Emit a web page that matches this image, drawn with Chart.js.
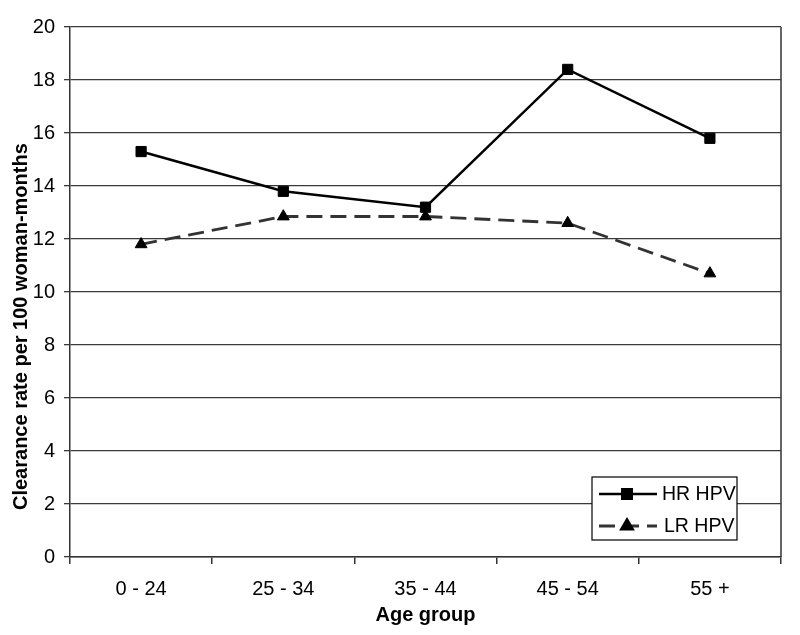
<!DOCTYPE html>
<html>
<head>
<meta charset="utf-8">
<script src="https://cdn.jsdelivr.net/npm/chart.js@4"></script>
<style>
  html, body { margin: 0; padding: 0; background: #fff; }
  #wrap { width: 800px; height: 635px; }
</style>
</head>
<body>
<div id="wrap"><canvas id="lineChart" width="800" height="635"></canvas></div>
<script>
const ageGroups = ['0 - 24', '25 - 34', '35 - 44', '45 - 54', '55 +'];
const hrHpv = [15.3, 13.8, 13.2, 18.4, 15.8];
const lrHpv = [11.8, 12.85, 12.85, 12.6, 10.7];
const seriesNames = ['HR HPV', 'LR HPV'];
const yTitle = 'Clearance rate per 100 woman-months';

const FONT = 'Liberation Sans, Arial, sans-serif';

// y title, right border and the boxed legend inside the plot
const boxLegend = {
    id: 'boxLegend',
    afterDraw(chart) {
        const ctx = chart.ctx;
        const area = chart.chartArea;
        ctx.save();
        ctx.strokeStyle = '#333';
        ctx.lineWidth = 1.5;
        ctx.beginPath();
        ctx.moveTo(area.right, area.top);
        ctx.lineTo(area.right, area.bottom);
        ctx.stroke();

        // y axis title, sits a bit low like the original
        ctx.save();
        ctx.translate(21, 510);
        ctx.rotate(-Math.PI / 2);
        ctx.font = 'bold 20px ' + FONT;
        ctx.fillStyle = '#000';
        ctx.textAlign = 'left';
        ctx.textBaseline = 'middle';
        ctx.fillText(yTitle, 0, 0);
        ctx.restore();

        const x = 592, y = 477, w = 145, h = 63;
        ctx.fillStyle = '#fff';
        ctx.fillRect(x, y, w, h);
        ctx.strokeStyle = '#000';
        ctx.lineWidth = 1.2;
        ctx.strokeRect(x, y, w, h);

        ctx.font = '19.5px ' + FONT;
        ctx.textBaseline = 'middle';
        chart.data.datasets.forEach((ds, i) => {
            const ly = y + 17 + i * 32;
            ctx.strokeStyle = ds.borderColor;
            ctx.lineWidth = ds.borderWidth;
            ctx.setLineDash(ds.borderDash || []);
            ctx.beginPath();
            ctx.moveTo(x + 7, ly);
            ctx.lineTo(x + 65, ly);
            ctx.stroke();
            ctx.setLineDash([]);
            ctx.fillStyle = '#000';
            ctx.strokeStyle = '#000';
            Chart.helpers.drawPoint(ctx, {
                pointStyle: ds.pointStyle,
                radius: ds.pointRadius - 0.5,
                borderWidth: 1
            }, x + 35, ly);
            ctx.fillText(ds.label, x + 70 + i * 2, ly + 1);
        });
        ctx.restore();
    }
};

window.onload = function () {
    let painter = document.getElementById('lineChart').getContext('2d');
    Chart.defaults.font.family = FONT;
    Chart.defaults.color = '#000';

    window.lineChart = new Chart(painter, {
        type: 'line',
        data: {
            labels: ageGroups,
            datasets: [{
                label: seriesNames[0],
                data: hrHpv,
                borderColor: '#000',
                backgroundColor: '#000',
                borderWidth: 2.5,
                pointStyle: 'rect',
                pointRadius: 7.2,
                pointBorderWidth: 1,
                tension: 0
            }, {
                label: seriesNames[1],
                data: lrHpv,
                borderColor: '#333',
                backgroundColor: '#000',
                pointBorderColor: '#000',
                borderWidth: 2.8,
                borderDash: [16, 8],
                pointStyle: 'triangle',
                pointRadius: 6.8,
                pointBorderWidth: 1,
                tension: 0
            }]
        },
        options: {
            responsive: false,
            animation: false,
            layout: { padding: { top: 27, right: 19, left: 0, bottom: 0 } },
            scales: {
                x: {
                    offset: true,
                    grid: {
                        drawOnChartArea: false,
                        offset: true,
                        tickLength: 7,
                        color: '#333',
                        lineWidth: 1.5
                    },
                    border: { color: '#333', width: 1.5 },
                    ticks: { padding: 13, font: { size: 20 }, maxRotation: 0 },
                    title: {
                        display: true,
                        text: 'Age group',
                        font: { size: 20, weight: 'bold' },
                        padding: { top: 8, bottom: 8 }
                    },
                    afterFit(scale) { scale.height = 78; }
                },
                y: {
                    min: 0,
                    max: 20,
                    ticks: { stepSize: 2, padding: 9, font: { size: 20 } },
                    grid: { color: '#3a3a3a', lineWidth: 1.3, tickLength: 6 },
                    border: { color: '#333', width: 1.5 },
                    title: { display: false },
                    afterFit(scale) { scale.width = 70; }
                }
            },
            plugins: {
                legend: { display: false },
                tooltip: { enabled: false }
            }
        },
        plugins: [boxLegend]
    });
};
</script>
</body>
</html>
